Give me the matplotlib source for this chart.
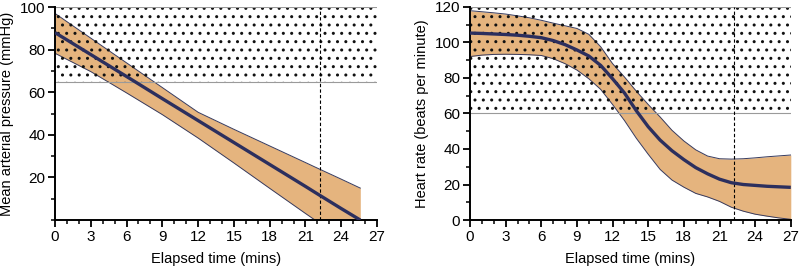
import matplotlib
matplotlib.use("Agg")
import matplotlib.pyplot as plt
from matplotlib.ticker import MultipleLocator

plt.rcParams["font.family"] = ["Liberation Sans", "DejaVu Sans"]
plt.rcParams["hatch.linewidth"] = 1.0

# Mean arterial pressure (left panel)
map_time = [0, 3, 6, 9, 12, 15, 18, 21, 21.8, 24, 25.6]
map_mean = [88.0, 77.7, 67.4, 57.0, 46.7, 36.4, 26.1, 15.8, 13.0, 5.4, 0.0]
map_upper = [97.0, 85.4, 73.8, 62.2, 50.6, 42.6, 34.8, 27.0, 24.9, 19.2, 15.0]
map_lower = [78.3, 69.7, 59.7, 49.5, 38.5, 26.8, 14.9, 3.1, 0.0, 0.0, 0.0]
map_normal = (65, 100)

# Heart rate (right panel)
hr_time = list(range(0, 28))
hr_mean = [105.2, 105.0, 104.7, 104.4, 104.0, 103.4, 102.6, 101.0, 98.7, 95.7,
           92.3, 87.0, 79.5, 71.5, 61.5, 52.5, 45.0, 39.0, 34.0, 29.5,
           26.0, 23.0, 21.0, 20.0, 19.5, 19.0, 18.7, 18.4]
hr_upper = [117.8, 117.2, 116.6, 115.9, 114.9, 113.8, 112.4, 110.8, 109.3, 107.8,
            104.5, 97.5, 88.0, 80.5, 72.5, 65.0, 58.0, 50.5, 44.5, 39.5,
            36.0, 34.5, 34.3, 34.5, 35.0, 35.6, 36.1, 36.6]
hr_lower = [92.0, 92.8, 93.2, 93.3, 93.2, 93.0, 92.6, 90.8, 88.0, 84.4,
            79.5, 73.5, 65.0, 56.0, 46.0, 37.0, 28.5, 22.5, 18.5, 15.0,
            13.0, 10.5, 7.2, 5.0, 3.3, 2.2, 1.2, 0.4]
hr_normal = (60, 120)

event_time = 22.2
x_ticks = list(range(0, 28, 3))

BAND = "#e5b47e"
NAVY = "#2c2f5e"
EDGE = "#363a5e"


def draw_panel(ax, t, mean, upper, lower, normal, ymax, yticks, ylabel):
    ax.fill_between(t, lower, upper, color=BAND, linewidth=0, zorder=1)
    ax.plot(t, upper, color=EDGE, linewidth=0.7, zorder=1.5)
    ax.plot(t, lower, color=EDGE, linewidth=0.7, zorder=1.5)
    ax.axhspan(normal[0], normal[1], facecolor="none", edgecolor="#111111",
               hatch="..", linewidth=0, zorder=2)
    for y in normal:
        ax.axhline(y, color="#9a9a9a", linewidth=0.8, zorder=2)
    ax.axvline(event_time, color="black", linewidth=0.8, linestyle=(0, (3, 2)), zorder=2.5)
    ax.plot(t, mean, color=NAVY, linewidth=2.4, solid_capstyle="butt", zorder=3)

    ax.set_xlim(0, 27)
    ax.set_ylim(0, ymax)
    ax.set_xticks(x_ticks)
    ax.xaxis.set_minor_locator(MultipleLocator(1))
    ax.set_yticks(yticks)
    ax.yaxis.set_minor_locator(MultipleLocator(10))
    for side in ("top", "right"):
        ax.spines[side].set_visible(False)
    for side in ("left", "bottom"):
        ax.spines[side].set_linewidth(1.4)
    ax.tick_params(which="major", length=5, width=1.3, labelsize=11, pad=2)
    ax.tick_params(which="minor", length=3, width=1.1)
    ax.set_xlabel("Elapsed time (mins)", fontsize=10.5, labelpad=6)
    ax.set_ylabel(ylabel, fontsize=10.5, labelpad=4)


fig = plt.figure(figsize=(8, 2.71), dpi=100)
ax1 = fig.add_axes([0.06875, 0.188, 0.4025, 0.786])
ax2 = fig.add_axes([0.5875, 0.188, 0.401, 0.787])

draw_panel(ax1, map_time, map_mean, map_upper, map_lower, map_normal, 100,
           [20, 40, 60, 80, 100], "Mean arterial pressure (mmHg)")
draw_panel(ax2, hr_time, hr_mean, hr_upper, hr_lower, hr_normal, 120,
           [0, 20, 40, 60, 80, 100, 120], "Heart rate (beats per minute)")

fig.savefig("out.png", dpi=100)
